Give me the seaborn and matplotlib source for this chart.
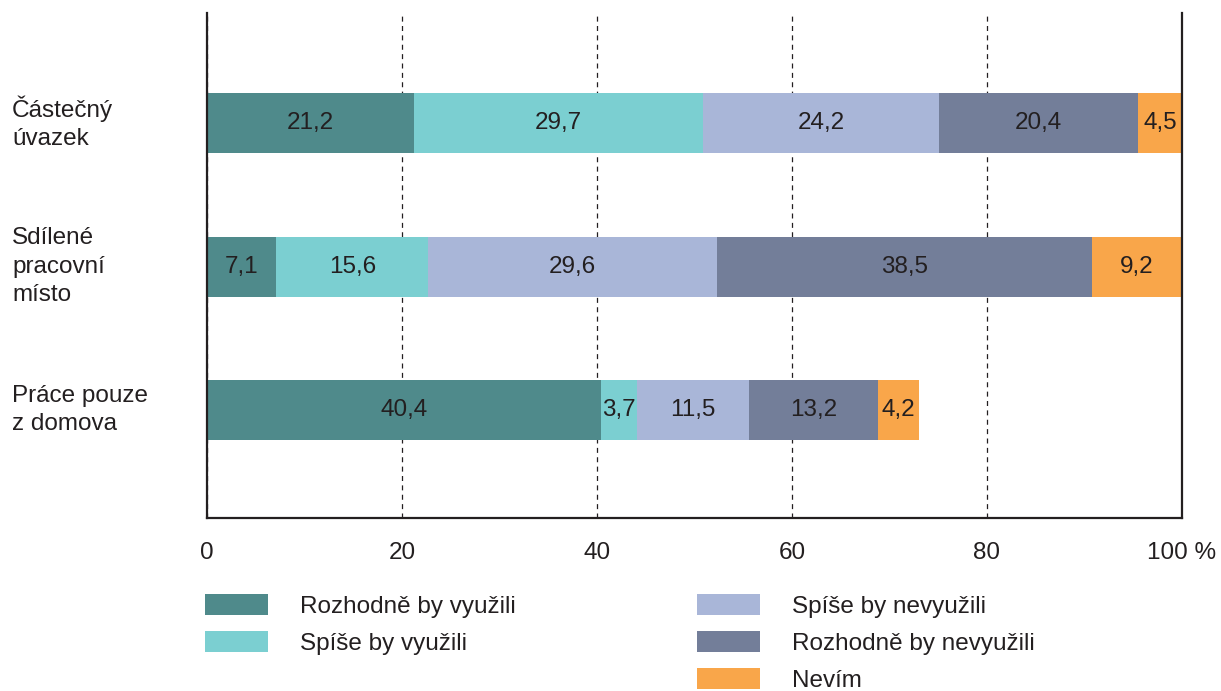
import matplotlib
matplotlib.use("Agg")
import matplotlib.pyplot as plt
from matplotlib.patches import Patch
import numpy as np
import pandas as pd
import seaborn as sns

# Survey answers per work arrangement (percent)
categories = ["Částečný\núvazek", "Sdílené\npracovní\nmísto", "Práce pouze\nz domova"]
series_names = ["Rozhodně by využili", "Spíše by využili", "Spíše by nevyužili",
                "Rozhodně by nevyužili", "Nevím"]
rozhodne_ano = [21.2, 7.1, 40.4]
spise_ano = [29.7, 15.6, 3.7]
spise_ne = [24.2, 29.6, 11.5]
rozhodne_ne = [20.4, 38.5, 13.2]
nevim = [4.5, 9.2, 4.2]
x_ticks = [0, 20, 40, 60, 80, 100]
x_tick_labels = ["0", "20", "40", "60", "80", "100 %"]

colors = ["#4F8A8B", "#7BCFD1", "#A9B6D8", "#737E99", "#F9A64A"]
ink = "#231F20"

sns.set_style("white")
plt.rcParams["font.family"] = ["Liberation Sans", "DejaVu Sans"]
FS = 17.5

series = [rozhodne_ano, spise_ano, spise_ne, rozhodne_ne, nevim]
values = np.array(series)             # shape (5, 3)
cum = np.cumsum(values, axis=0)

fig = plt.figure(figsize=(12.21, 6.91), dpi=100)
ax = fig.add_axes([0.1695, 0.2504, 0.7985, 0.7306])

# Stacked bars: draw cumulative totals from the outermost segment inward
for i in range(len(series) - 1, -1, -1):
    df = pd.DataFrame({"cat": categories, "total": cum[i]})
    sns.barplot(data=df, x="total", y="cat", orient="h", color=colors[i],
                saturation=1, width=0.417, linewidth=0, errorbar=None, ax=ax,
                zorder=2)

# Value labels centred in each segment
for i in range(len(series)):
    for j in range(len(categories)):
        v = values[i, j]
        center = cum[i, j] - v / 2
        ax.text(center, j, f"{v:.1f}".replace(".", ","), ha="center", va="center",
                fontsize=FS, color=ink, zorder=3)

ax.set_xlim(0, 100)
ax.set_ylim(2.75, -0.764)
ax.set_xticks(x_ticks, x_tick_labels)
ax.set_xlabel("")
ax.set_ylabel("")

ax.xaxis.grid(True, linestyle=(0, (4, 3.5)), color=ink, linewidth=0.9)
ax.yaxis.grid(False)
ax.set_axisbelow(True)

for side in ["left", "right", "bottom"]:
    ax.spines[side].set_visible(True)
    ax.spines[side].set_color(ink)
    ax.spines[side].set_linewidth(1.6)
ax.spines["top"].set_visible(False)

ax.tick_params(axis="x", length=0, pad=17, labelsize=FS, labelcolor=ink)
ax.tick_params(axis="y", length=0, pad=140.4, labelsize=FS, labelcolor=ink)
for lab in ax.get_yticklabels():
    lab.set_horizontalalignment("left")
    lab.set_multialignment("left")
    lab.set_linespacing(1.38)
    lab.set_verticalalignment("center")

# Legend in two groups
handles = [Patch(facecolor=c, edgecolor="none", label=n) for c, n in zip(colors, series_names)]
leg_kw = dict(frameon=False, fontsize=FS, handlelength=2.6, handleheight=0.95,
              handletextpad=1.32, labelspacing=0.55, borderpad=0, borderaxespad=0,
              loc="upper left", labelcolor=ink)
leg1 = fig.legend(handles=handles[:2], bbox_to_anchor=(0.1679, 0.1404), **leg_kw)
leg2 = fig.legend(handles=handles[2:], bbox_to_anchor=(0.5708, 0.1404), **leg_kw)

fig.savefig("out.png", dpi=100)
